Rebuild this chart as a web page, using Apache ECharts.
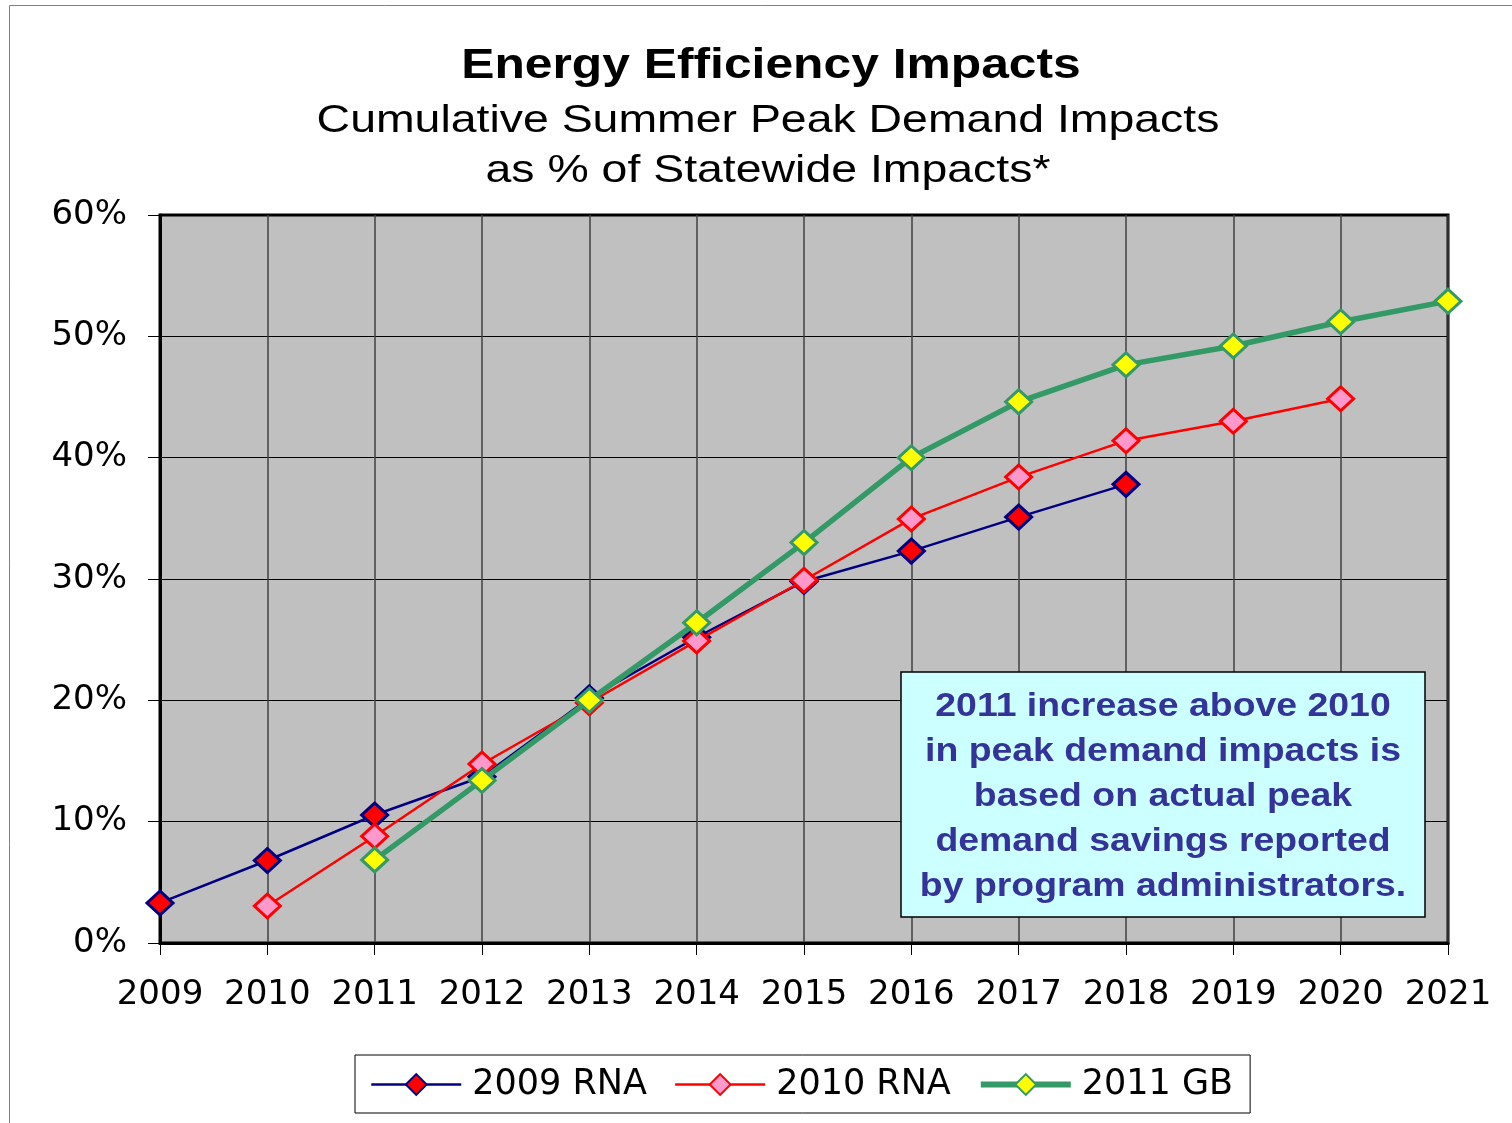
<!DOCTYPE html>
<html>
<head>
<meta charset="utf-8">
<script src="https://cdn.jsdelivr.net/npm/echarts@6/dist/echarts.min.js"></script>
<style>html,body{margin:0;padding:0;background:#fff}#c{width:1512px;height:1123px}</style>
</head>
<body>
<div id="c"></div>
<script>
const years = ['2009','2010','2011','2012','2013','2014','2015','2016','2017','2018','2019','2020','2021'];
const rna2009 = [3.3, 6.8, 10.55, 13.7, 20.2, 25.2, 29.8, 32.3, 35.1, 37.8, null, null, null];
const rna2010 = [null, 3.05, 8.8, 14.75, 19.8, 24.9, 29.9, 34.95, 38.4, 41.4, 43.0, 44.85, null];
const gb2011 = [null, null, 6.85, 13.4, 20.0, 26.4, 33.0, 40.0, 44.6, 47.65, 49.2, 51.2, 52.9];
const titleText = 'Energy Efficiency Impacts';
const subtitleLines = ['Cumulative Summer Peak Demand Impacts', 'as % of Statewide Impacts*'];
const noteLines = ['2011 increase above 2010', 'in peak demand impacts is', 'based on actual peak', 'demand savings reported', 'by program administrators.'];

const chart = echarts.init(document.getElementById('c'), null, {renderer: 'canvas'});
const F = '"Liberation Sans", Arial, sans-serif';
const FW = '"DejaVu Sans", "Liberation Sans", sans-serif';
chart.setOption({
  backgroundColor: '#fff',
  animation: false,
  graphic: [
    {type: 'rect', shape: {x: 9.5, y: 5.5, width: 1520, height: 1140}, style: {fill: 'none', stroke: '#808080', lineWidth: 1}, silent: true, z: -10},
    {type: 'text', x: 771, y: 66, scaleX: 1.185, z: 50,
     style: {text: titleText, fontFamily: F, fontSize: 42, fontWeight: 'bold', fill: '#000', align: 'center', verticalAlign: 'middle'}},
    {type: 'text', x: 768, y: 96, scaleX: 1.19, z: 50,
     style: {text: subtitleLines.join('\n'), fontFamily: F, fontSize: 39, fill: '#000', align: 'center', verticalAlign: 'top', lineHeight: 50}},
    {type: 'rect', shape: {x: 901, y: 672, width: 524, height: 245},
     style: {fill: '#ccffff', stroke: '#000', lineWidth: 1.5}, z: 100},
    {type: 'text', x: 1163, y: 684, scaleX: 1.1, z: 101,
     style: {text: noteLines.join('\n'), fontFamily: F, fontSize: 34, fontWeight: 'bold', fill: '#333399',
             align: 'center', verticalAlign: 'top', lineHeight: 45}}
  ],
  legend: {
    left: 355, top: 1055,
    itemWidth: 90, itemHeight: 26, itemGap: 27,
    padding: [12, 17, 11, 15],
    borderColor: '#000', borderWidth: 1, backgroundColor: '#fff',
    textStyle: {fontFamily: FW, fontSize: 35, color: '#000', padding: [0, 0, 0, 6]},
    data: [
      {name: '2009 RNA', lineStyle: {width: 2.5}},
      {name: '2010 RNA', lineStyle: {width: 2.5}},
      {name: '2011 GB', lineStyle: {width: 6}}
    ]
  },
  grid: {left: 160, right: 1512 - 1448, top: 215, bottom: 1123 - 943, show: true,
         backgroundColor: '#c0c0c0', borderColor: '#000', borderWidth: 3, containLabel: false},
  xAxis: {
    type: 'category', data: years, boundaryGap: false,
    axisLine: {show: true, lineStyle: {color: '#000', width: 3}},
    axisTick: {show: true, length: 12, interval: 0, lineStyle: {color: '#000', width: 1}},
    axisLabel: {fontFamily: FW, fontSize: 34, color: '#000', margin: 35, interval: 0},
    splitLine: {show: true, interval: 0, lineStyle: {color: '#404040', width: 1.5}}
  },
  yAxis: {
    type: 'value', min: 0, max: 60, interval: 10,
    axisLine: {show: true, lineStyle: {color: '#000', width: 3}},
    axisTick: {show: true, length: 12, lineStyle: {color: '#000', width: 1}},
    axisLabel: {fontFamily: FW, fontSize: 34, color: '#000', margin: 33, formatter: '{value}%'},
    splitLine: {show: true, lineStyle: {color: '#000', width: 1}}
  },
  series: [
    {name: '2009 RNA', type: 'line', data: rna2009, symbol: 'diamond', symbolSize: [26, 24],
     lineStyle: {color: '#000080', width: 2.5},
     itemStyle: {color: '#ff0000', borderColor: '#000080', borderWidth: 3}, z: 3},
    {name: '2010 RNA', type: 'line', data: rna2010, symbol: 'diamond', symbolSize: [26, 24],
     lineStyle: {color: '#ff0000', width: 2.5},
     itemStyle: {color: '#ff99cc', borderColor: '#ff0000', borderWidth: 3}, z: 4},
    {name: '2011 GB', type: 'line', data: gb2011, symbol: 'diamond', symbolSize: [26, 24],
     lineStyle: {color: '#339966', width: 5.5},
     itemStyle: {color: '#ffff00', borderColor: '#339966', borderWidth: 3}, z: 5}
  ]
});
</script>
</body>
</html>
